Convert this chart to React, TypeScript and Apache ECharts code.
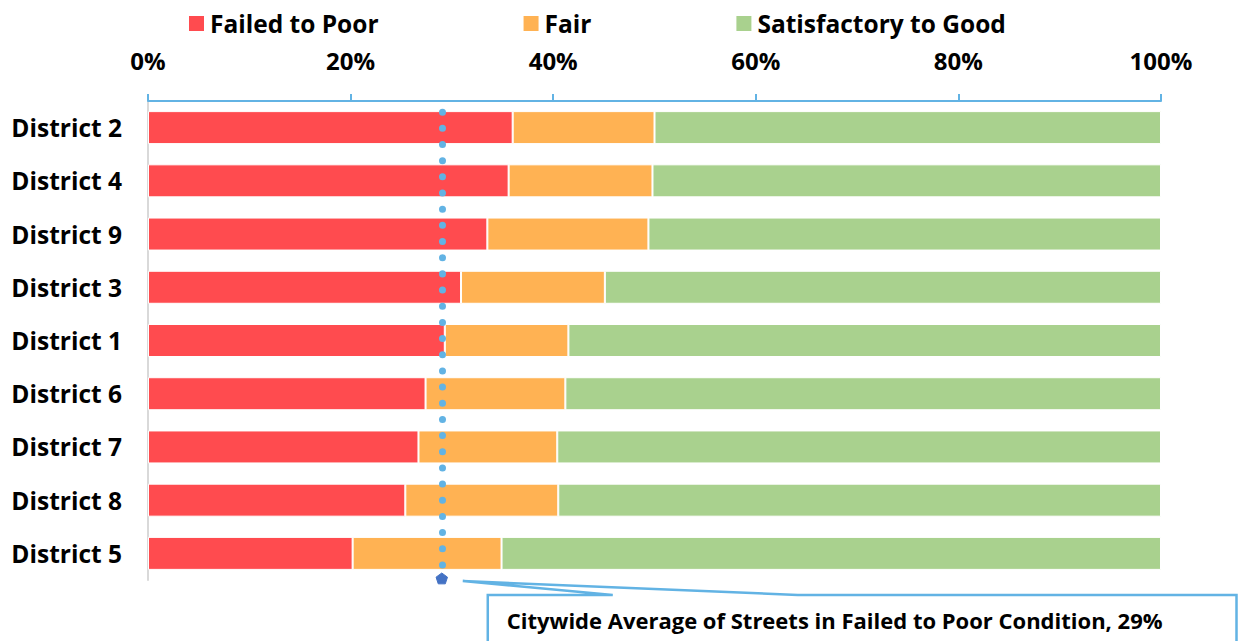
import React, { useEffect, useRef } from 'react';
import * as echarts from 'echarts';

const districts = ['District 2', 'District 4', 'District 9', 'District 3', 'District 1', 'District 6', 'District 7', 'District 8', 'District 5'];
const failedToPoor = [36.0, 35.6, 33.5, 30.9, 29.3, 27.4, 26.7, 25.4, 20.2];
const fair = [14.0, 14.2, 15.9, 14.2, 12.2, 13.8, 13.7, 15.1, 14.7];
const satisfactoryToGood = [50.0, 50.2, 50.6, 54.9, 58.5, 58.8, 59.6, 59.5, 65.1];
const seriesNames = ['Failed to Poor', 'Fair', 'Satisfactory to Good'];
const xMin = 0;
const xMax = 100;
const xInterval = 20;
const citywideAverage = 29;
const calloutText = 'Citywide Average of Streets in Failed to Poor Condition, 29%';

const W = 1238;
const H = 641;
const GRID = { left: 148, right: 77, top: 101, bottom: 61 };
const FONT = '"Open Sans", "Noto Sans", sans-serif';
const BLUE = '#62b3e4';
const COLORS = ['#ff4b4f', '#ffb253', '#a9d18e'];

export default function App() {
  const ref = useRef<HTMLDivElement>(null);
  useEffect(() => {
    if (!ref.current) return;
    const chart = echarts.init(ref.current, undefined, { renderer: 'svg' });
    const barItem = (c: string) => ({ color: c, borderColor: '#ffffff', borderWidth: 1 });
    chart.setOption({
      animation: false,
      textStyle: { fontFamily: FONT },
      legend: {
        left: 182,
        top: 6,
        itemWidth: 17,
        itemHeight: 17,
        itemGap: 143,
        icon: 'rect',
        textStyle: { fontSize: 24.5, fontWeight: 'bold', color: '#000', fontFamily: FONT },
        data: seriesNames,
      },
      grid: { ...GRID, containLabel: false },
      xAxis: {
        type: 'value',
        position: 'top',
        min: xMin,
        max: xMax,
        interval: xInterval,
        splitLine: { show: false },
        axisLine: { show: true, lineStyle: { color: BLUE, width: 2 } },
        axisTick: { show: true, length: 7, lineStyle: { color: BLUE, width: 2 } },
        axisLabel: {
          formatter: '{value}%',
          fontSize: 24,
          fontWeight: 'bold',
          color: '#000',
          margin: 29,
          fontFamily: FONT,
        },
      },
      yAxis: {
        type: 'category',
        data: districts,
        inverse: true,
        axisLine: { show: true, lineStyle: { color: '#d9d9d9', width: 2 } },
        axisTick: { show: false },
        axisLabel: { fontSize: 24.5, fontWeight: 'bold', color: '#000', margin: 26, fontFamily: FONT },
      },
      series: [
        {
          name: seriesNames[0],
          type: 'bar',
          stack: 'total',
          barWidth: 33,
          data: failedToPoor,
          itemStyle: barItem(COLORS[0]),
          markLine: {
            silent: true,
            symbol: ['none', 'none'],
            label: { show: false },
            emphasis: { disabled: true },
            lineStyle: { color: BLUE, width: 7, type: [0.01, 16.16], dashOffset: 5.46, cap: 'round', opacity: 1 },
            data: [{ xAxis: citywideAverage }],
          },
        },
        { name: seriesNames[1], type: 'bar', stack: 'total', barWidth: 33, data: fair, itemStyle: barItem(COLORS[1]) },
        { name: seriesNames[2], type: 'bar', stack: 'total', barWidth: 33, data: satisfactoryToGood, itemStyle: barItem(COLORS[2]) },
      ],
    });

    const ax = chart.convertToPixel({ xAxisIndex: 0 }, citywideAverage) as number;
    const b = H - GRID.bottom;
    const r = 6;
    const pent: number[][] = [];
    for (let i = 0; i < 5; i++) {
      const a = -Math.PI / 2 + (i * 2 * Math.PI) / 5;
      pent.push([ax + r * Math.cos(a), b - 1 + r * Math.sin(a)]);
    }
    chart.setOption({
      graphic: [
        {
          type: 'polygon',
          z: 100,
          shape: { points: pent },
          style: { fill: '#4472c4', stroke: '#4472c4', lineWidth: 1 },
        },
        {
          type: 'polygon',
          z: 100,
          shape: {
            points: [
              [ax + 46, H + 10],
              [ax + 46, b + 15],
              [ax + 171, b + 15],
              [ax + 21, b + 1],
              [ax + 356, b + 15],
              [W - 1.5, b + 15],
              [W - 1.5, H + 10],
            ],
          },
          style: { fill: '#ffffff', stroke: BLUE, lineWidth: 2.5 },
        },
        {
          type: 'text',
          z: 101,
          x: ax + 65,
          y: b + 40,
          style: {
            text: calloutText,
            fontSize: 22,
            fontWeight: 'bold',
            fill: '#000',
            fontFamily: FONT,
            verticalAlign: 'middle',
            align: 'left',
          },
        },
      ],
    });
    return () => chart.dispose();
  }, []);
  return <div ref={ref} style={{ position: 'fixed', left: 0, top: 0, width: W, height: H, background: '#fff' }} />;
}
